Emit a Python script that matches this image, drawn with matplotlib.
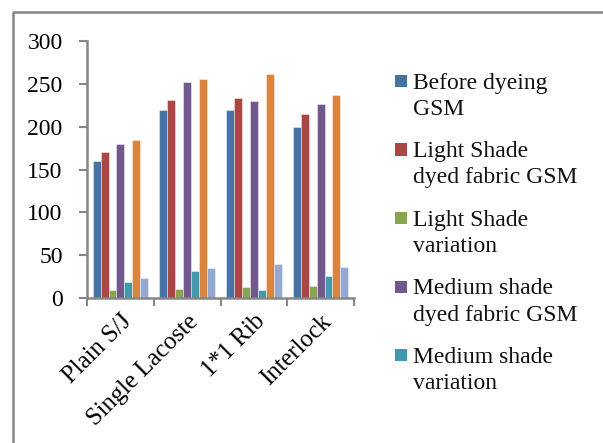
import matplotlib
matplotlib.use("Agg")
import matplotlib.pyplot as plt
from matplotlib.lines import Line2D
from matplotlib.patches import Rectangle
from matplotlib.transforms import ScaledTranslation
import numpy as np

categories = ["Plain S/J", "Single Lacoste", "1*1 Rib", "Interlock"]
series_names = [
    "Before dyeing\nGSM",
    "Light Shade\ndyed fabric GSM",
    "Light Shade\nvariation",
    "Medium shade\ndyed fabric GSM",
    "Medium shade\nvariation",
    "Dark shade\ndyed fabric GSM",
    "Dark shade\nvariation",
]
before_dyeing = [160, 220, 220, 200]
light_dyed = [170, 231, 234, 215]
light_var = [9, 10, 13, 14]
medium_dyed = [180, 252, 230, 227]
medium_var = [19, 31, 9, 26]
dark_dyed = [184, 256, 261, 237]
dark_var = [23, 35, 40, 36]
yticks = [0, 50, 100, 150, 200, 250, 300]

series = [before_dyeing, light_dyed, light_var, medium_dyed, medium_var, dark_dyed, dark_var]
colors = ["#4572A7", "#AA4643", "#89A54E", "#71588F", "#4198AF", "#DB843D", "#93A9CF"]

plt.rcParams["font.family"] = ["Liberation Serif", "DejaVu Serif"]
FS = 17
W, H = 603, 443
fig = plt.figure(figsize=(W / 100, H / 100), dpi=100)

# axes placed in pixel terms
L, R, T, B = 87, 354, 41, 298
ax = fig.add_axes([L / W, (H - B) / H, (R - L) / W, (B - T) / H])

x = np.arange(len(categories))
bw = 0.1186
n = len(series)
for i, (vals, c) in enumerate(zip(series, colors)):
    ax.bar(x + (i - (n - 1) / 2) * bw, vals, width=bw, color=c,
           edgecolor=(1, 1, 1, 0.5), linewidth=0.6)

ax.set_xlim(-0.5, len(categories) - 0.5)
ax.set_ylim(0, 300)
ax.set_yticks(yticks)
ax.set_yticklabels([str(v) for v in yticks], fontsize=FS)

# tick marks on category boundaries, labels at centers
ax.set_xticks(np.arange(-0.5, len(categories), 1.0))
ax.set_xticklabels([])
ax.set_xticks(x, minor=True)
ax.set_xticklabels(categories, minor=True, rotation=45, ha="right", va="top",
                   rotation_mode="anchor", fontsize=17.8)
shift = ScaledTranslation(8 / 100, 0, fig.dpi_scale_trans)
for lbl in ax.get_xticklabels(minor=True):
    lbl.set_transform(lbl.get_transform() + shift)
ax.tick_params(axis="x", which="minor", length=0, pad=9)
ax.tick_params(axis="x", which="major", length=6, width=1.5, color="#868686", direction="out")
ax.tick_params(axis="y", length=6, width=1.5, color="#868686", direction="out", pad=11.5)

for s in ["top", "right"]:
    ax.spines[s].set_visible(False)
for s in ["left", "bottom"]:
    ax.spines[s].set_color("#868686")
    ax.spines[s].set_linewidth(1.8)

# legend: only the first five entries fit inside the chart area
sq = 12
line_gap = 27
for i in range(5):
    base = 88 + 68.5 * i
    fig.add_artist(Rectangle((395 / W, 1 - (base - 1) / H), sq / W, sq / H,
                             transform=fig.transFigure, facecolor=colors[i],
                             edgecolor="none"))
    fig.text(413 / W, 1 - (base + line_gap) / H, series_names[i], fontsize=FS,
             ha="left", va="baseline", linespacing=1.32, color="#111111")

# outer chart frame
fig.add_artist(Line2D([13 / W, 13 / W, 1.0], [0.0, 1 - 12 / H, 1 - 12 / H],
                      transform=fig.transFigure, color="#868686", lw=1.8))

fig.savefig("out.png", dpi=100)
